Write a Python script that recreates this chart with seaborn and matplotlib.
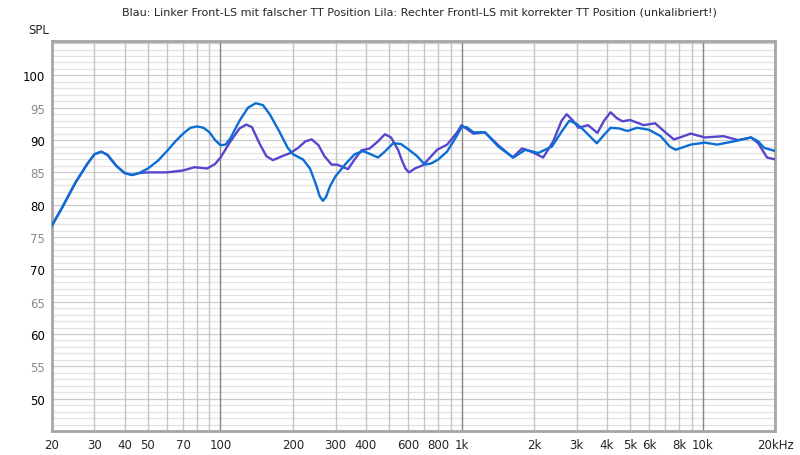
import numpy as np
import pandas as pd
import matplotlib
matplotlib.use("Agg")
import matplotlib.pyplot as plt
import matplotlib.ticker as mticker
import seaborn as sns

# -----------------------------
# DATA
# -----------------------------
blue_freq = [20, 22, 25, 28, 30, 32, 34, 37, 40, 43, 46, 50, 55, 60, 65, 70, 75, 80, 85, 90,
             95, 100, 105, 110, 120, 130, 140, 150, 160, 175, 190, 200, 220, 235, 248, 258,
             266, 274, 285, 300, 330, 360, 390, 420, 450, 480, 520, 560, 600, 650, 705, 750,
             800, 870, 950, 1000, 1050, 1120, 1250, 1420, 1640, 1840, 2080, 2370, 2600, 2800,
             3000, 3200, 3640, 3900, 4150, 4500, 4880, 5340, 5980, 6700, 7300, 7730, 8930,
             10200, 11500, 13500, 15900, 17000, 18000, 20000]
blue_spl = [76.8, 79.5, 83.4, 86.3, 87.8, 88.2, 87.7, 86.0, 84.9, 84.6, 84.9, 85.6, 86.8,
            88.3, 89.8, 91.0, 91.9, 92.1, 91.9, 91.2, 90.0, 89.2, 89.3, 90.3, 93.0, 95.0,
            95.7, 95.4, 94.0, 91.4, 88.8, 87.8, 87.0, 85.6, 83.3, 81.3, 80.6, 81.2, 82.9,
            84.4, 86.3, 87.8, 88.3, 87.8, 87.3, 88.2, 89.5, 89.4, 88.6, 87.6, 86.2, 86.4,
            87.0, 88.2, 90.5, 92.0, 92.0, 91.2, 91.2, 89.0, 87.3, 88.5, 88.0, 89.0, 91.3,
            93.0, 92.5, 91.6, 89.5, 90.8, 91.9, 91.8, 91.4, 91.9, 91.6, 90.6, 89.0, 88.5,
            89.3, 89.6, 89.3, 89.8, 90.4, 89.8, 88.8, 88.3]

lila_freq = [20, 22, 25, 28, 30, 32, 34, 37, 40, 43, 46, 50, 54, 60, 70, 78, 88, 95, 100,
             110, 120, 128, 135, 145, 155, 165, 180, 195, 210, 225, 239, 255, 270, 289, 305,
             338, 360, 384, 416, 450, 481, 510, 545, 565, 585, 605, 640, 690, 740, 792, 871,
             950, 1000, 1120, 1250, 1420, 1630, 1780, 1950, 2180, 2400, 2600, 2730, 2900,
             3050, 3350, 3660, 3900, 4150, 4400, 4650, 5000, 5700, 6350, 7000, 7600, 8200,
             8930, 10200, 12200, 14000, 15900, 17000, 18500, 20000]
lila_spl = [76.8, 79.5, 83.4, 86.3, 87.8, 88.2, 87.7, 86.0, 84.9, 84.6, 84.9, 85.0, 85.0,
            85.0, 85.3, 85.8, 85.6, 86.3, 87.3, 89.8, 91.8, 92.4, 92.0, 89.5, 87.5, 86.9,
            87.5, 88.0, 88.8, 89.8, 90.1, 89.2, 87.5, 86.2, 86.2, 85.5, 87.0, 88.4, 88.7,
            89.8, 90.9, 90.4, 88.5, 86.9, 85.6, 85.0, 85.6, 86.1, 87.3, 88.5, 89.3, 91.0,
            92.3, 91.0, 91.2, 89.2, 87.3, 88.7, 88.2, 87.3, 89.8, 93.0, 94.0, 93.0, 91.9,
            92.3, 91.1, 93.0, 94.3, 93.4, 92.9, 93.1, 92.3, 92.6, 91.2, 90.1, 90.5, 91.0,
            90.4, 90.6, 90.0, 90.4, 89.5, 87.3, 87.0]

x_ticks = [20, 30, 40, 50, 70, 100, 200, 300, 400, 600, 800, 1000, 2000, 3000, 4000,
           5000, 6000, 8000, 10000, 20000]
x_labels = ["20", "30", "40", "50", "70", "100", "200", "300", "400", "600", "800", "1k",
            "2k", "3k", "4k", "5k", "6k", "8k", "10k", "20kHz"]
y_ticks = [50, 55, 60, 65, 70, 75, 80, 85, 90, 95, 100]

title = ("Blau: Linker Front-LS mit falscher TT Position Lila: "
         "Rechter Frontl-LS mit korrekter TT Position (unkalibriert!)")

df = pd.concat([
    pd.DataFrame({"freq": blue_freq, "spl": blue_spl, "kurve": "blau"}),
    pd.DataFrame({"freq": lila_freq, "spl": lila_spl, "kurve": "lila"}),
])

# -----------------------------
# PLOT
# -----------------------------
sns.set_style("white")
plt.rcParams["font.family"] = ["DejaVu Sans"]

fig = plt.figure(figsize=(8, 4.56), dpi=100)
ax = fig.add_axes([0.065, 0.0526, 0.904, 0.855])

# grid
for k in range(45, 106):
    ax.axhline(k, color="#cbcbcb" if k % 5 == 0 else "#e3e3e3", lw=0.9, zorder=0)
minor_x = [m * 10 ** e for e in range(1, 5) for m in range(1, 10)]
for f in minor_x:
    if 20 <= f <= 20000:
        dark = f in (100, 1000, 10000)
        ax.axvline(f, color="#858585" if dark else "#c4c4c4", lw=1.0, zorder=0)

sns.lineplot(data=df, x="freq", y="spl", hue="kurve", sort=False,
             palette={"blau": "#0a6ed4", "lila": "#5646cc"},
             hue_order=["lila", "blau"], lw=1.7, legend=False, ax=ax, zorder=3)

ax.set_xscale("log")
ax.set_xlim(20, 20000)
ax.set_ylim(45, 105.3)
ax.xaxis.set_major_locator(mticker.FixedLocator(x_ticks))
ax.xaxis.set_major_formatter(mticker.FixedFormatter(x_labels))
ax.xaxis.set_minor_locator(mticker.NullLocator())
ax.set_yticks(y_ticks)
ax.set_yticklabels([str(v) for v in y_ticks])
for lab, v in zip(ax.get_yticklabels(), y_ticks):
    lab.set_color("#000000" if v % 10 == 0 else "#8a8a8a")
ax.tick_params(axis="both", length=0, labelsize=8.5, pad=5)
ax.set_xlabel("")
ax.set_ylabel("")

for s in ax.spines.values():
    s.set_visible(True)
    s.set_color("#a6a6a6")
    s.set_linewidth(2)

fig.text(0.524, 0.972, title, ha="center", va="center", fontsize=8,
         family=["Liberation Sans Narrow", "DejaVu Sans"])
fig.text(0.035, 0.933, "SPL", ha="left", va="center", fontsize=8.5)

fig.savefig("out.png", dpi=100, facecolor="white")
